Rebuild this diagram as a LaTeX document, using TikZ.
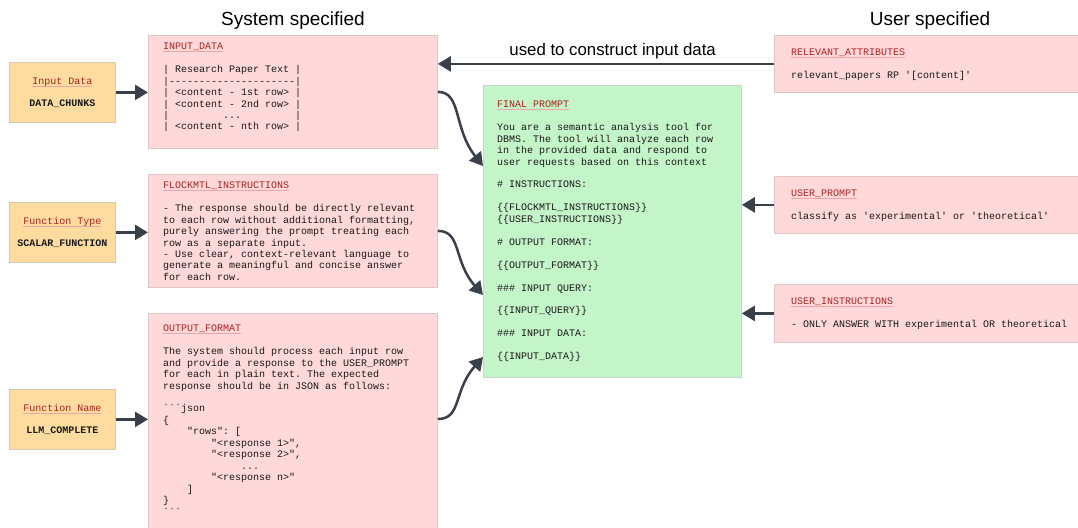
\documentclass[tikz,border=0pt]{standalone}
\usepackage{fontspec}
\setmainfont{Liberation Sans}
\setmonofont{Liberation Mono}
\usetikzlibrary{arrows.meta, positioning}

\definecolor{pinkfill}{HTML}{FFD8DA}
\definecolor{pinkline}{HTML}{DCC6C7}
\definecolor{greenfill}{HTML}{C4F5C9}
\definecolor{greenline}{HTML}{CAD6CB}
\definecolor{orangefill}{HTML}{FEDCA0}
\definecolor{orangeline}{HTML}{D6C8B0}
\definecolor{titlered}{HTML}{A82323}
\definecolor{ulpink}{HTML}{F0A4A4}
\definecolor{arrowgray}{HTML}{3A4049}

% red box title with a pink underline
\newcommand{\ttitle}[1]{\rule{0pt}{8pt}\setbox0\hbox{{\color{titlered}#1}}\leavevmode\rlap{{\color{ulpink}\rule[-2.5pt]{\wd0}{1.2pt}}}\box0}
\newcommand{\skipline}{\\[11.45pt]}

\begin{document}
\begin{tikzpicture}[x=1pt, y=-1pt,
    box/.style={draw=#1line, fill=#1fill, line width=0.8pt, anchor=north west, inner sep=0pt},
    boxtext/.style={anchor=north west, inner sep=0pt, align=left, text=black!90, font=\ttfamily\fontsize{10}{11.45}\selectfont},
    arrow/.style={line width=2.5pt, draw=arrowgray, -{Triangle[length=13pt,width=15pt]}},
    heading/.style={anchor=base, font=\fontsize{19}{22}\selectfont}]
    \useasboundingbox (0,0) rectangle (1078,527);

    % Headings
    \node[heading] (systitle) at (293,25.3) {System specified};
    \node[heading] (usertitle) at (930,25.3) {User specified};

    % Function parameters (orange)
    \node[box=orange, boxtext, anchor=north west, align=center, minimum width=106pt, minimum height=60pt] (indata) at (9,62)
        {\ttitle{Input Data}\\[10.5pt]\textbf{DATA\_CHUNKS}};
    \node[box=orange, boxtext, anchor=north west, align=center, minimum width=106pt, minimum height=60pt] (ftype) at (9,202)
        {\ttitle{Function Type}\\[10.5pt]\textbf{SCALAR\_FUNCTION}};
    \node[box=orange, boxtext, anchor=north west, align=center, minimum width=106pt, minimum height=60pt] (fname) at (9,389)
        {\ttitle{Function Name}\\[10.5pt]\textbf{LLM\_COMPLETE}};

    % System specified blocks
    \node[box=pink, minimum width=289pt, minimum height=113pt] (inputdata) at (148,35) {};
    \node[boxtext] (inputdatatext) at ([xshift=15pt, yshift=-6.6pt]inputdata.north west)
        {\ttitle{INPUT\_DATA}\skipline
         | Research Paper Text |\\
         |---------------------|\\
         | <content - 1st row> |\\
         | <content - 2nd row> |\\
         |~~~~~~~~~...~~~~~~~~~|\\
         | <content - nth row> |};

    \node[box=pink, minimum width=289pt, minimum height=113pt] (flock) at (148,174) {};
    \node[boxtext] (flocktext) at ([xshift=15pt, yshift=-6.6pt]flock.north west)
        {\ttitle{FLOCKMTL\_INSTRUCTIONS}\skipline
         - The response should be directly relevant\\
         to each row without additional formatting,\\
         purely answering the prompt treating each\\
         row as a separate input.\\
         - Use clear, context-relevant language to\\
         generate a meaningful and concise answer\\
         for each row.};

    \node[box=pink, minimum width=289pt, minimum height=225pt] (outfmt) at (148,313) {};
    \node[boxtext] (outfmttext) at ([xshift=15pt, yshift=-10.6pt]outfmt.north west)
        {\ttitle{OUTPUT\_FORMAT}\skipline
         The system should process each input row\\
         and provide a response to the USER\_PROMPT\\
         for each in plain text. The expected\\
         response should be in JSON as follows:\skipline
         ```json\\
         \{\\
         \hspace*{24pt}"rows": [\\
         \hspace*{48pt}"<response 1>",\\
         \hspace*{48pt}"<response 2>",\\
         \hspace*{78pt}...\\
         \hspace*{48pt}"<response n>"\\
         \hspace*{24pt}]\\
         \}\\
         ```};

    % Final prompt (green)
    \node[box=green, minimum width=258pt, minimum height=292pt] (final) at (483,85) {};
    \node[boxtext] (finaltext) at ([xshift=14pt, yshift=-14.6pt]final.north west)
        {\ttitle{FINAL PROMPT}\skipline
         You are a semantic analysis tool for\\
         DBMS. The tool will analyze each row\\
         in the provided data and respond to\\
         user requests based on this context\skipline
         \# INSTRUCTIONS:\skipline
         \{\{FLOCKMTL\_INSTRUCTIONS\}\}\\
         \{\{USER\_INSTRUCTIONS\}\}\skipline
         \# OUTPUT FORMAT:\skipline
         \{\{OUTPUT\_FORMAT\}\}\skipline
         \#\#\# INPUT QUERY:\skipline
         \{\{INPUT\_QUERY\}\}\skipline
         \#\#\# INPUT DATA:\skipline
         \{\{INPUT\_DATA\}\}};

    % User specified blocks
    \node[box=pink, minimum width=310pt, minimum height=57pt] (relattr) at (774,35) {};
    \node[boxtext] (relattrtext) at ([xshift=17pt, yshift=-12.6pt]relattr.north west)
        {\ttitle{RELEVANT\_ATTRIBUTES}\skipline relevant\_papers RP '[content]'};
    \node[box=pink, minimum width=310pt, minimum height=57pt] (uprompt) at (774,176) {};
    \node[boxtext] (uprompttext) at ([xshift=17pt, yshift=-12.6pt]uprompt.north west)
        {\ttitle{USER\_PROMPT}\skipline classify as 'experimental' or 'theoretical'};
    \node[box=pink, minimum width=310pt, minimum height=58pt] (uinstr) at (774,284) {};
    \node[boxtext] (uinstrtext) at ([xshift=17pt, yshift=-12.3pt]uinstr.north west)
        {\ttitle{USER\_INSTRUCTIONS}\skipline - ONLY ANSWER WITH experimental OR theoretical};

    % Arrows from the parameters
    \draw[arrow] (indata.east) -- (indata.east -| inputdata.west);
    \draw[arrow] (ftype.east) -- (ftype.east -| flock.west);
    \draw[arrow] (fname.east) -- (fname.east -| outfmt.west);

    % Relevant attributes feed the input data
    \draw[arrow] (relattr.west) -- (relattr.west -| inputdata.east)
        node[pos=0.48, anchor=base, yshift=8pt, text=black, font=\fontsize{16.8}{20}\selectfont] (usedlabel) {used to construct input data};

    % Curved arrows into the final prompt
    \draw[arrow] (inputdata.east) .. controls +(24,0) and +(-30,-38) .. ([yshift=-81pt]final.north west);
    \draw[arrow] (flock.east) .. controls +(24,0) and +(-30,-34) .. ([yshift=-210pt]final.north west);
    \draw[arrow] ([yshift=-106pt]outfmt.north east) .. controls +(24,0) and +(-30,34) .. ([yshift=-272pt]final.north west);

    % User prompt and instructions
    \draw[arrow] (uprompt.west) -- (uprompt.west -| final.east);
    \draw[arrow] (uinstr.west) -- (uinstr.west -| final.east);
\end{tikzpicture}
\end{document}
